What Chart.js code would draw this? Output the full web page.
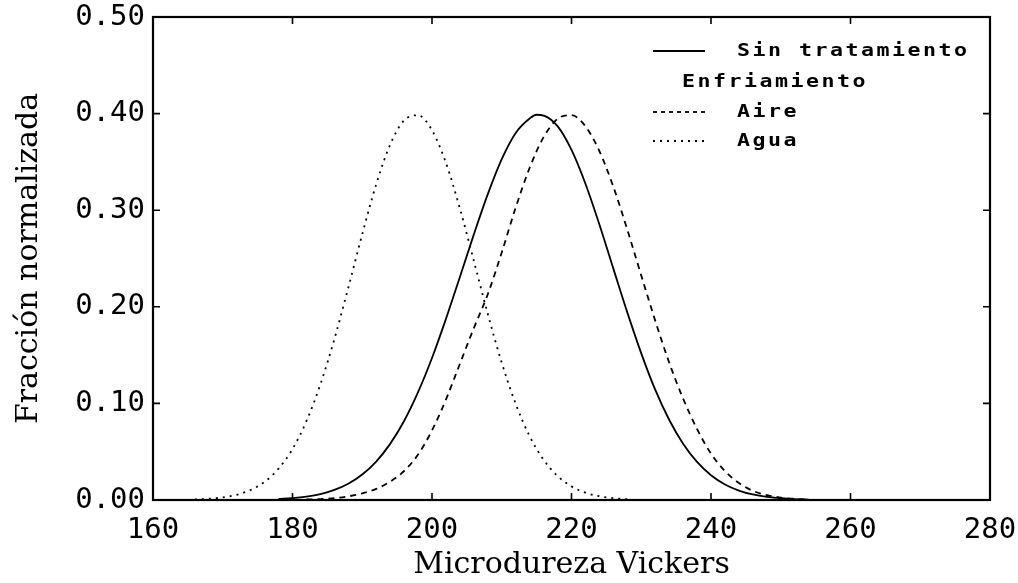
<!DOCTYPE html>
<html>
<head>
<meta charset="utf-8">
<script src="https://cdn.jsdelivr.net/npm/chart.js@4"></script>
<style>
  html, body { margin: 0; padding: 0; background: #fff; }
  #chart { display: block; }
</style>
</head>
<body>
<canvas id="chart" width="1018" height="583"></canvas>
<script>
// Series names and the heading shown above the two cooling curves
const seriesNames = ['Sin tratamiento', 'Aire', 'Agua']
const legendHeading = 'Enfriamiento'
const xTitle = 'Microdureza Vickers'
const yTitle = 'Fracción normalizada'

// Axis ranges
const xTicks = [160, 180, 200, 220, 240, 260, 280]
const yTicks = [0, 0.1, 0.2, 0.3, 0.4, 0.5]

// Sin tratamiento (solid)
const hardnessSin = [178, 180, 182, 184, 186, 188, 190, 192, 194, 196, 198, 200, 202, 204, 206, 208, 210, 212, 214, 215, 216,
  218, 220, 222, 224, 226, 228, 230, 232, 234, 236, 238, 240, 242, 244, 246, 248, 250, 252, 254]
const fracSin = [0.0011, 0.0019, 0.0034, 0.0060, 0.0105, 0.0169, 0.0264, 0.0398, 0.0581, 0.0818, 0.1116, 0.1470, 0.1875, 0.2309, 0.2750, 0.3167, 0.3529, 0.3800, 0.3950, 0.3988, 0.3980,
  0.3870, 0.3624, 0.3274, 0.2852, 0.2395, 0.1942, 0.1518, 0.1142, 0.0831, 0.0583, 0.0394, 0.0256, 0.0161, 0.0098, 0.0057, 0.0032, 0.0018, 0.0009, 0.0004]

// Aire (dashed)
const hardnessAire = [182, 184, 186, 188, 190, 192, 194, 196, 198, 200, 202, 204, 206, 208, 210, 212, 214, 216, 218, 220,
  222, 224, 226, 228, 230, 232, 234, 236, 238, 240, 242, 244, 246, 248, 250, 252, 254]
const fracAire = [0.0005, 0.0010, 0.0020, 0.0038, 0.0068, 0.0115, 0.0190, 0.0300, 0.0470, 0.0720, 0.1040, 0.1410, 0.1780, 0.2130, 0.2563, 0.3027, 0.3439, 0.3756, 0.3946, 0.3984,
  0.3869, 0.3612, 0.3243, 0.2799, 0.2325, 0.1857, 0.1423, 0.1050, 0.0735, 0.0480, 0.0300, 0.0175, 0.0095, 0.0050, 0.0025, 0.0012, 0.0005]

// Agua (dotted)
const hardnessAgua = [166, 168, 170, 172, 174, 176, 178, 180, 182, 184, 186, 188, 190, 192, 194, 196, 198, 200, 202, 204,
  206, 208, 210, 212, 214, 216, 218, 220, 222, 224, 226, 228]
const fracAgua = [0.0006, 0.0013, 0.0027, 0.0054, 0.0104, 0.0188, 0.0324, 0.0528, 0.0816, 0.1197, 0.1665, 0.2198, 0.2751, 0.3267, 0.3679, 0.3930, 0.3983, 0.3828, 0.3490, 0.3018,
  0.2475, 0.1926, 0.1421, 0.0995, 0.0660, 0.0416, 0.0249, 0.0141, 0.0076, 0.0039, 0.0019, 0.0008]

const toPoints = (xs, ys) => xs.map((x, i) => ({ x: x, y: ys[i] }))

const tickFont = { family: '"DejaVu Sans Mono", monospace', size: 29 }
const titleFont = { family: '"DejaVu Serif", serif', size: 30, lineHeight: 1.2 }

// Box round the plot with inward tick marks on all four sides
const framePlugin = {
  id: 'frame',
  afterDatasetsDraw(chart) {
    const { ctx, chartArea: a, scales: { x, y } } = chart
    ctx.save()
    ctx.strokeStyle = '#000'
    ctx.lineWidth = 2.2
    ctx.strokeRect(a.left, a.top, a.right - a.left, a.bottom - a.top)
    ctx.lineWidth = 1.6
    ctx.beginPath()
    x.ticks.forEach(t => {
      const px = x.getPixelForValue(t.value)
      ctx.moveTo(px, a.bottom); ctx.lineTo(px, a.bottom - 7)
      ctx.moveTo(px, a.top); ctx.lineTo(px, a.top + 7)
    })
    y.ticks.forEach(t => {
      const py = y.getPixelForValue(t.value)
      ctx.moveTo(a.left, py); ctx.lineTo(a.left + 7, py)
      ctx.moveTo(a.right, py); ctx.lineTo(a.right - 7, py)
    })
    ctx.stroke()
    ctx.restore()
  }
}

// Legend in the top right corner, drawn letter by letter like the old plotter font
const legendPlugin = {
  id: 'oldLegend',
  afterDraw(chart) {
    const { ctx, chartArea: a } = chart
    const sets = chart.data.datasets
    const lineX0 = a.left + 500
    const lineX1 = a.left + 552
    const textX = a.left + 584
    const rows = [
      { text: sets[0].label, ds: sets[0], y: a.top + 34, x: textX },
      { text: legendHeading, ds: null, y: a.top + 65, x: textX - 55 },
      { text: sets[1].label, ds: sets[1], y: a.top + 95, x: textX },
      { text: sets[2].label, ds: sets[2], y: a.top + 124, x: textX }
    ]
    ctx.save()
    ctx.fillStyle = '#000'
    ctx.font = 'bold 18px "DejaVu Sans Mono", monospace'
    ctx.textBaseline = 'middle'
    ctx.textAlign = 'left'
    rows.forEach(r => {
      if (r.ds) {
        ctx.beginPath()
        ctx.strokeStyle = '#000'
        ctx.lineWidth = r.ds.borderWidth
        ctx.setLineDash(r.ds === sets[1] ? [4, 4] : (r.ds.borderDash || []))
        ctx.moveTo(lineX0, r.y)
        ctx.lineTo(lineX1, r.y)
        ctx.stroke()
      }
      for (let i = 0; i < r.text.length; i++) {
        ctx.save()
        ctx.translate(r.x + i * 15.5, r.y)
        ctx.scale(1.2, 1)
        ctx.fillText(r.text[i], 0, 0)
        ctx.restore()
      }
    })
    ctx.restore()
  }
}

const ctx = document.getElementById('chart').getContext('2d')
new Chart(ctx, {
  type: 'line',
  data: {
    datasets: [
      {
        label: seriesNames[0],
        data: toPoints(hardnessSin, fracSin),
        borderColor: '#000',
        borderWidth: 1.8,
        borderDash: [],
        pointRadius: 0,
        cubicInterpolationMode: 'monotone'
      },
      {
        label: seriesNames[1],
        data: toPoints(hardnessAire, fracAire),
        borderColor: '#000',
        borderWidth: 1.8,
        borderDash: [6, 5],
        pointRadius: 0,
        cubicInterpolationMode: 'monotone'
      },
      {
        label: seriesNames[2],
        data: toPoints(hardnessAgua, fracAgua),
        borderColor: '#000',
        borderWidth: 1.8,
        borderDash: [2, 5],
        pointRadius: 0,
        cubicInterpolationMode: 'monotone'
      }
    ]
  },
  options: {
    responsive: false,
    animation: false,
    layout: { padding: { left: 0, top: 17, right: 28, bottom: 0 } },
    plugins: {
      legend: { display: false },
      tooltip: { enabled: false }
    },
    scales: {
      x: {
        type: 'linear',
        min: xTicks[0],
        max: xTicks[xTicks.length - 1],
        afterBuildTicks: scale => { scale.ticks = xTicks.map(v => ({ value: v })) },
        afterFit: scale => { scale.height = 83; scale.paddingLeft = 0; scale.paddingRight = 0 },
        grid: { display: false, drawTicks: false },
        border: { display: false },
        ticks: { color: '#000', font: tickFont, padding: 13, maxRotation: 0, autoSkip: false },
        title: { display: true, text: xTitle, color: '#000', font: titleFont, padding: { top: 0, bottom: 0 } }
      },
      y: {
        min: yTicks[0],
        max: yTicks[yTicks.length - 1],
        afterBuildTicks: scale => { scale.ticks = yTicks.map(v => ({ value: v })) },
        afterFit: scale => { scale.width = 153; scale.paddingTop = 0; scale.paddingBottom = 0 },
        grid: { display: false, drawTicks: false },
        border: { display: false },
        ticks: { color: '#000', font: tickFont, padding: 8, callback: v => v.toFixed(2) },
        title: { display: true, text: yTitle, color: '#000', font: titleFont, padding: { top: 11, bottom: 0 } }
      }
    }
  },
  plugins: [framePlugin, legendPlugin]
})
</script>
</body>
</html>
